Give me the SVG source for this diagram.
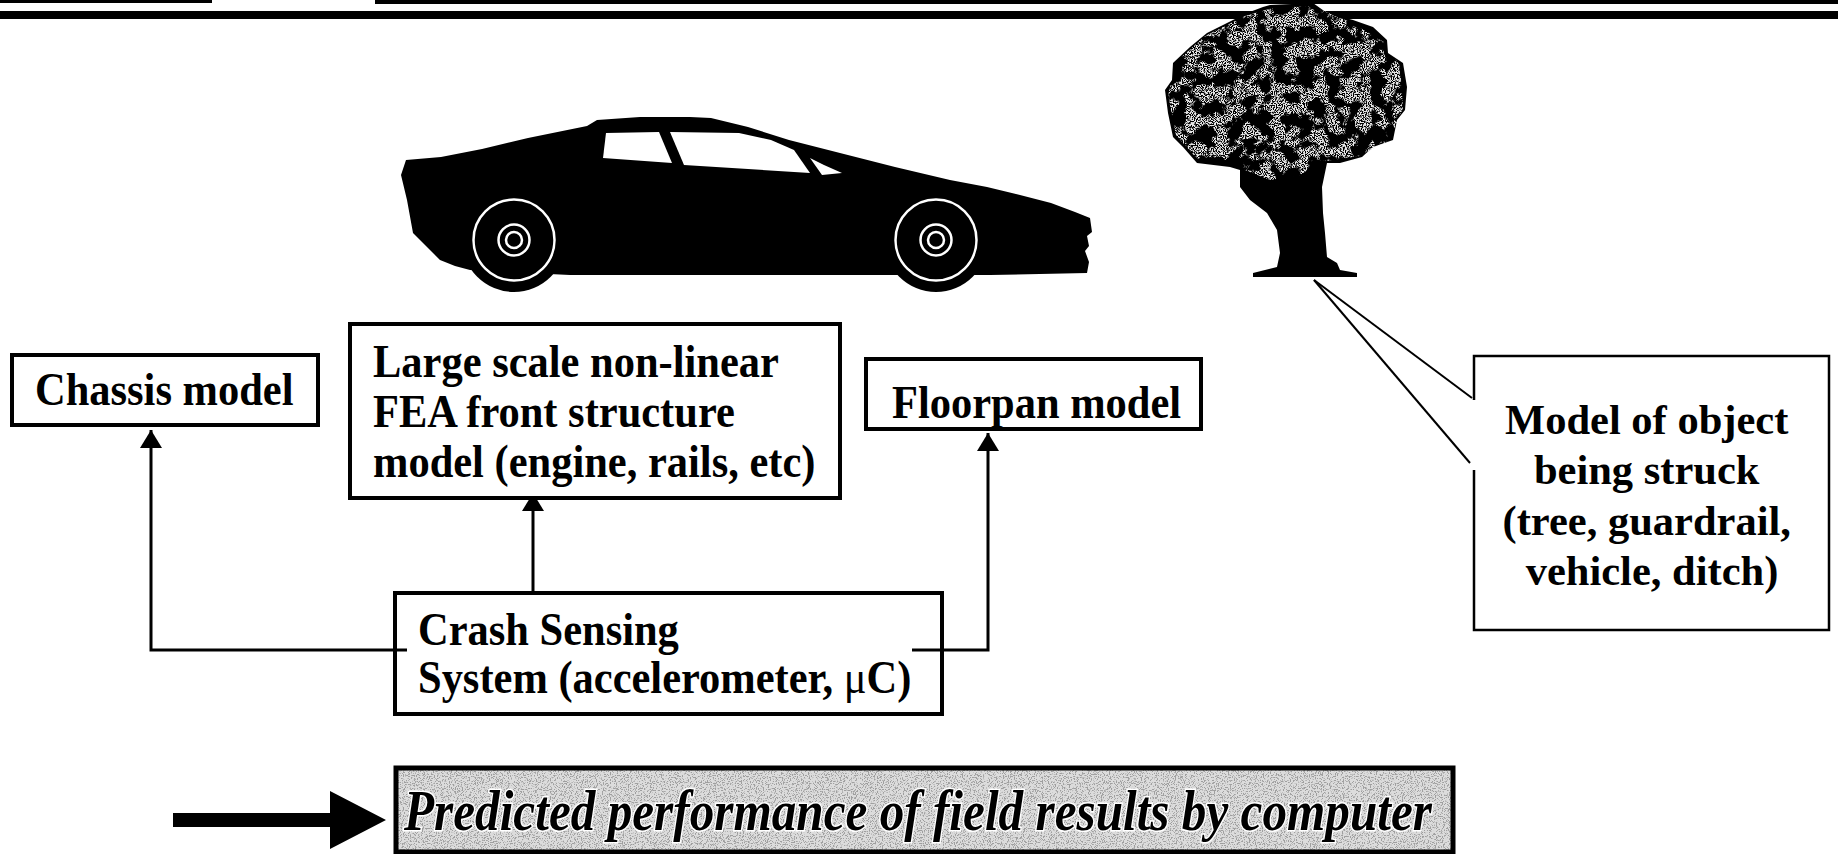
<svg xmlns="http://www.w3.org/2000/svg" width="1838" height="854" viewBox="0 0 1838 854">
  <style>
    .lbl { font-family: "Liberation Serif", "Times New Roman", serif; font-weight: bold; font-size: 42.5px; fill: #000; }
    .box { fill: #fff; stroke: #000; stroke-width: 4; }
    .conn { fill: none; stroke: #000; stroke-width: 3; }
    .thin { fill: none; stroke: #000; stroke-width: 2; }
    .ring { fill: none; stroke: #fff; stroke-width: 2.5; }
    .banner-text { font-family: "Liberation Serif", "Times New Roman", serif; font-weight: bold; font-style: italic; font-size: 56px; fill: #000; stroke: #fff; stroke-width: 3; paint-order: stroke; }
  </style>
  <defs>
    <marker id="ah" viewBox="0 0 18 22" refX="18" refY="11" markerWidth="18" markerHeight="22" orient="auto" markerUnits="userSpaceOnUse">
      <path d="M0,0 L18,11 L0,22 z" fill="#000"/>
    </marker>
    <!-- mottled foliage speckle, clipped to the shape it is applied to -->
    <filter id="leafy" filterUnits="userSpaceOnUse" x="1150" y="0" width="270" height="290">
      <feTurbulence type="fractalNoise" baseFrequency="0.07" numOctaves="3" seed="11" result="n"/>
      <feColorMatrix in="n" type="matrix" values="0 0 0 0 1  0 0 0 0 1  0 0 0 0 1  12 0 0 0 -5.4" result="m"/>
      <feTurbulence type="fractalNoise" baseFrequency="0.9" numOctaves="1" seed="4" result="f"/>
      <feColorMatrix in="f" type="matrix" values="0 0 0 0 0.8  0 0 0 0 0.8  0 0 0 0 0.8  8 0 0 0 -3.4" result="fm"/>
      <feComposite in="fm" in2="m" operator="in" result="spk"/>
      <feComposite in="spk" in2="SourceGraphic" operator="in"/>
    </filter>
    <!-- stippled grey fill of the result banner -->
    <filter id="grain" filterUnits="userSpaceOnUse" x="396" y="768" width="1057" height="86">
      <feTurbulence type="fractalNoise" baseFrequency="0.85" numOctaves="2" seed="2" result="n"/>
      <feColorMatrix in="n" type="matrix" values="0 0 0 0 0.35  0 0 0 0 0.35  0 0 0 0 0.35  -9 0 0 0 4.3" result="d"/>
      <feComposite in="d" in2="SourceGraphic" operator="in"/>
    </filter>
  </defs>

  <rect width="1838" height="854" fill="#fff"/>

  <!-- header rules -->
  <g id="header">
    <rect x="0" y="0" width="212" height="3" fill="#000"/>
    <rect x="375" y="0" width="1463" height="4" fill="#000"/>
    <rect x="0" y="11" width="1838" height="8" fill="#000"/>
  </g>

  <!-- car silhouette -->
  <g id="car">
    <path fill="#000" d="M406,160 L441,157 L482,149 L528,138 L587,126 L597,120 L640,117 L690,117 L711,118 L748,127 L789,140 L840,153 L895,167 L950,180 L987,187 L1020,195 L1051,203 L1075,212 L1090,218 L1092,232 L1087,236 L1089,246 L1085,251 L1089,262 L1087,273 L990,275 L880,275 L570,275 L470,270 L455,266 L440,260 L413,233 L407,200 L401,175 Z"/>
    <circle cx="514" cy="240" r="52" fill="#000"/>
    <circle cx="936" cy="240" r="52" fill="#000"/>
    <!-- windows -->
    <path fill="#fff" d="M606,133 L659,132 L672,163 L603,158 Z"/>
    <path fill="#fff" d="M670,132 L739,133 L771,140 L794,150 L810,173 L684,165 Z"/>
    <path fill="#fff" d="M810,158 L824,165 L842,173 L822,175 Z"/>
    <!-- wheels -->
    <circle class="ring" cx="514" cy="240" r="40.5"/>
    <circle class="ring" cx="514" cy="240" r="15.5"/>
    <circle class="ring" cx="514" cy="240" r="8" stroke-width="2"/>
    <circle class="ring" cx="936" cy="240" r="40.5"/>
    <circle class="ring" cx="936" cy="240" r="15.5"/>
    <circle class="ring" cx="936" cy="240" r="8" stroke-width="2"/>
  </g>

  <!-- tree -->
  <g id="tree">
    <path fill="#000" d="M1270,5 L1313,3 L1327,13 L1353,20 L1373,27 L1387,40 L1388,53 L1403,63 L1407,87 L1405,110 L1397,120 L1393,140 L1373,147 L1362,157 L1340,163 L1327,163 L1322,187 L1323,213 L1325,233 L1327,257 L1337,263 L1340,270 L1357,273 L1357,277 L1253,277 L1253,273 L1277,267 L1280,253 L1277,230 L1267,213 L1250,200 L1240,187 L1240,170 L1230,167 L1197,163 L1183,147 L1173,137 L1168,113 L1165,90 L1172,80 L1173,63 L1190,47 L1207,33 L1227,23 L1247,13 L1263,7 Z"/>
    <path fill="#000" filter="url(#leafy)" d="M1272,8 L1312,6 L1350,22 L1384,42 L1400,66 L1403,108 L1390,140 L1360,156 L1320,162 L1300,175 L1270,180 L1240,168 L1198,160 L1176,135 L1168,95 L1176,62 L1205,36 L1245,16 Z"/>
  </g>

  <!-- connectors -->
  <g id="connectors">
    <path class="conn" d="M407,650 H151 V430" marker-end="url(#ah)"/>
    <path class="conn" d="M533,591 V493" marker-end="url(#ah)"/>
    <path class="conn" stroke-width="2.5" d="M912,650 H988 V433" marker-end="url(#ah)"/>
    <path class="thin" d="M1314,280 L1472,398"/>
    <path class="thin" d="M1314,280 L1470,463"/>
  </g>

  <g id="chassis">
    <rect class="box" x="12" y="355" width="306" height="70"/>
    <text class="lbl" transform="translate(35,405) scale(1,1.1)">Chassis model</text>
  </g>

  <g id="fea">
    <rect class="box" x="350" y="324" width="490" height="174"/>
    <text class="lbl" transform="translate(373,377) scale(1,1.1)">
      <tspan x="0" y="0">Large scale non-linear</tspan>
      <tspan x="0" dy="45.5">FEA front structure</tspan>
      <tspan x="0" dy="45.5">model (engine, rails, etc)</tspan>
    </text>
  </g>

  <g id="floorpan">
    <rect class="box" x="866" y="359" width="335" height="70" stroke-width="3"/>
    <text class="lbl" transform="translate(892,418) scale(1,1.1)">Floorpan model</text>
  </g>

  <g id="crash">
    <rect class="box" x="395" y="593" width="547" height="121" fill="none"/>
    <path class="conn" d="M395,650 H407 M912,650 H942"/>
    <text class="lbl" transform="translate(418,645) scale(1,1.1)">
      <tspan x="0" y="0">Crash Sensing</tspan>
      <tspan x="0" dy="43.6">System (accelerometer, <tspan font-weight="normal">μ</tspan>C)</tspan>
    </text>
  </g>

  <g id="struck-object">
    <rect x="1474" y="356" width="355" height="274" fill="#fff"/>
    <path fill="none" stroke="#000" stroke-width="2.5" d="M1474,400 V356 H1829 V630 H1474 V470"/>
    <text class="lbl" text-anchor="middle">
      <tspan x="1652" y="434">Model of object</tspan>
      <tspan x="1652" y="484">being struck</tspan>
      <tspan x="1652" y="535">(tree, guardrail,</tspan>
      <tspan x="1652" y="585">vehicle, ditch)</tspan>
    </text>
  </g>

  <g id="result">
    <polygon fill="#000" points="173,813 330,813 330,791 386,820 330,849 330,827 173,827"/>
    <rect x="396" y="768" width="1057" height="84" fill="#dcdcdc"/>
    <rect x="396" y="768" width="1057" height="84" fill="#fff" filter="url(#grain)"/>
    <rect x="396" y="768" width="1057" height="84" fill="none" stroke="#000" stroke-width="5"/>
    <text class="banner-text" x="404" y="830" textLength="1028" lengthAdjust="spacingAndGlyphs">Predicted performance of field results by computer</text>
  </g>
</svg>
